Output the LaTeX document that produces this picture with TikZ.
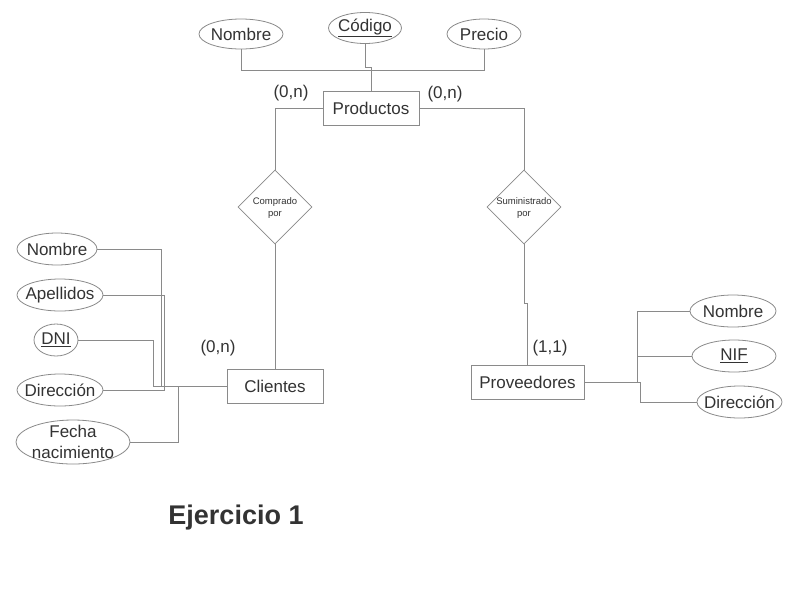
\documentclass[tikz,border=0pt]{standalone}
\usepackage{fontspec}
\setmainfont{Liberation Sans}
\usetikzlibrary{shapes.geometric}
\definecolor{linegray}{HTML}{8A8A8A}
\definecolor{txt}{HTML}{333333}
\begin{document}
\begin{tikzpicture}[x=1pt,y=-1pt,line width=0.8pt,
  every node/.style={text=txt},
  lbl/.style={font=\fontsize{17}{20}\selectfont},
  entity/.style={draw=linegray,fill=white,inner sep=0pt,minimum width=#1,minimum height=34pt,lbl},
  rel/.style={diamond,draw=linegray,fill=white,inner sep=0pt,minimum width=74pt,minimum height=74pt},
  relt/.style={align=center,font=\fontsize{9.5}{12}\selectfont,text=txt,yshift=-1.5pt},
  attrib/.style={ellipse,draw=linegray,fill=white,inner sep=0pt,minimum height=32pt},
  conn/.style={draw=linegray},
  card/.style={lbl}]
\useasboundingbox (0,0) rectangle (794,595);
% Productos
\node[entity=96] (prod) at (371,108) {Productos};
\node[attrib,minimum width=84pt,minimum height=30pt,label={[lbl]center:Nombre}] (pnomb) at (241,34) {};
\node[attrib,minimum width=73pt,minimum height=31pt,label={[lbl]center:\underline{Código}}] (pcod) at (365,28) {};
\node[attrib,minimum width=74pt,minimum height=30pt,label={[lbl]center:Precio}] (pprec) at (484,34) {};
\draw[conn] (pnomb.south) -- ++(0,21) -| (pprec.south);
\draw[conn] (pcod.south) -- ++(0,23) -| (prod.north);
% relations
\node[rel,label={[relt]center:Comprado\\por}] (comp) at (275,207) {};
\node[rel,label={[relt]center:Suministrado\\por}] (sum) at (524,207) {};
\draw[conn] (prod.west) -| (comp.north);
\draw[conn] (prod.east) -| (sum.north);
% Clientes
\node[entity=96] (cli) at (275,386) {Clientes};
\draw[conn] (comp.south) -- (cli.north);
\node[attrib,minimum width=80pt,label={[lbl]center:Nombre}] (cnom) at (57,249) {};
\node[attrib,minimum width=86pt,label={[lbl]center:Apellidos}] (cape) at (60,295) {};
\node[attrib,minimum width=44pt,label={[lbl]center:\underline{DNI}}] (cdni) at (56,340) {};
\node[attrib,minimum width=86pt,label={[lbl]center:Dirección}] (cdir) at (60,390) {};
\node[attrib,minimum width=114pt,minimum height=44pt,label={[lbl,align=center,font=\fontsize{17}{21}\selectfont]center:Fecha\\nacimiento}] (cfec) at (73,442) {};
\coordinate (cj) at (153,386);
\draw[conn] (cli.west) -- (cj) |- (cdni.east);
\draw[conn] (cnom.east) -- ++(64,0) |- (cli.west);
\draw[conn] (cape.east) -- ++(61,0) |- (cdir.east);
\draw[conn] (cfec.east) -- ++(48,0) |- (cli.west);
% Proveedores
\node[entity=113] (prov) at (527.5,382.5) {Proveedores};
\draw[conn] (sum.south) -- ++(0,59) -| (prov.north);
\node[attrib,minimum width=86pt,label={[lbl]center:Nombre}] (vnom) at (733,311) {};
\node[attrib,minimum width=84pt,label={[lbl]center:\underline{NIF}}] (vnif) at (734,356) {};
\node[attrib,minimum width=85pt,label={[lbl]center:Dirección}] (vdir) at (739.5,402) {};
\draw[conn] (prov.east) -- ++(53,0) coordinate (pj) |- (vnom.west);
\draw[conn] (pj |- vnif.west) -- (vnif.west);
\draw[conn] (prov.east) -- ++(56,0) |- (vdir.west);
% cardinalities
\node[card] (c1) at (291,93) {(0,n)};
\node[card] (c2) at (445,94) {(0,n)};
\node[card] (c3) at (218,348) {(0,n)};
\node[card] (c4) at (550,348) {(1,1)};
% title
\node[font=\fontsize{27}{30}\selectfont\bfseries] (title) at (236,518) {Ejercicio 1};
\end{tikzpicture}
\end{document}
